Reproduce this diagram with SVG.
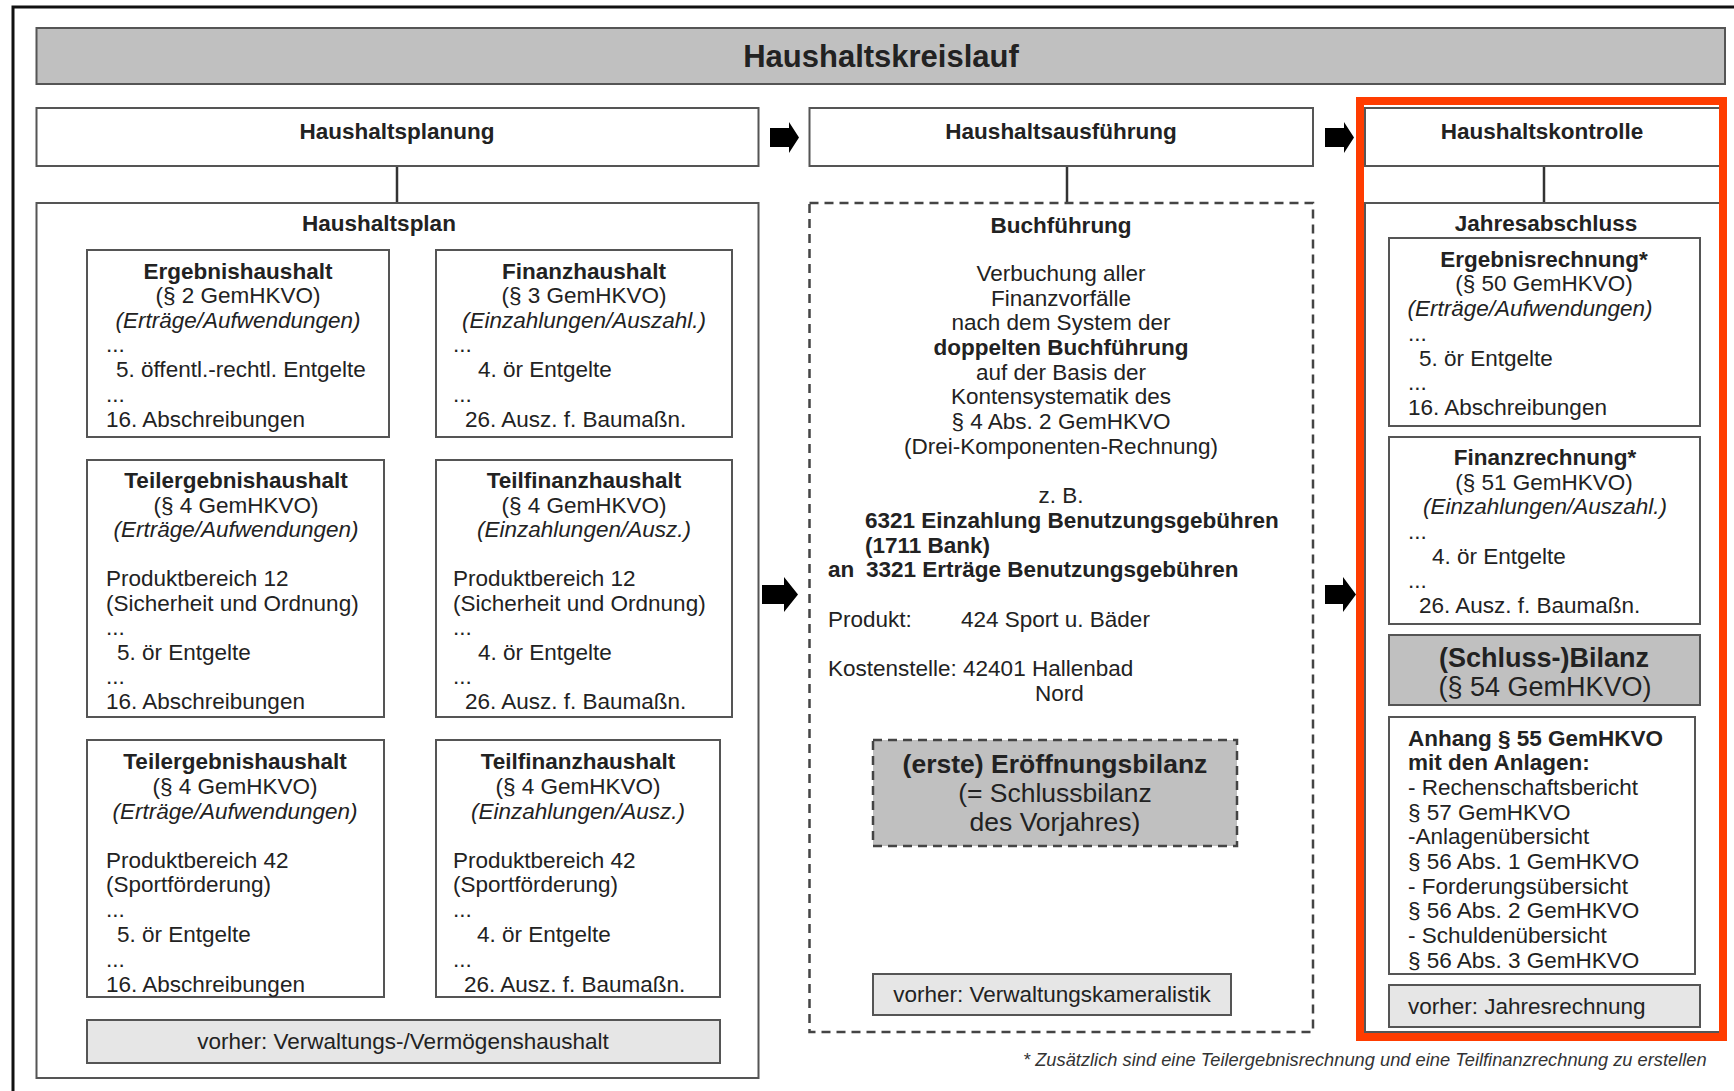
<svg xmlns="http://www.w3.org/2000/svg" width="1734" height="1091" viewBox="0 0 1734 1091">
<style>
.bx{fill:#fff;stroke:#555;stroke-width:2}
.gr{fill:#c0c0c0;stroke:#555;stroke-width:2}
.lg{fill:#e6e6e6;stroke:#555;stroke-width:2}
.ds{fill:#fff;stroke:#444;stroke-width:2.5;stroke-dasharray:9 6}
.dg{fill:#c0c0c0;stroke:#444;stroke-width:2.5;stroke-dasharray:9 6}
.ln{fill:none;stroke:#333;stroke-width:2.5}
.ar{fill:#000}
text{font-family:"Liberation Sans",Arial,Helvetica,sans-serif;font-size:22.5px;fill:#222}
.b{font-weight:bold}
.i{font-style:italic}
.c{text-anchor:middle}
.big{font-size:26.5px}
.fn{font-size:18.3px;font-style:italic;fill:#333}
</style>
<rect width="1734" height="1091" fill="#fff"/>
<g id="frame">
<path d="M13,1091 V7 H1734" fill="none" stroke="#111" stroke-width="3"/>
</g>
<g id="title">
<rect x="36.5" y="28" width="1688.5" height="56" class="gr"/>
<text x="881" y="67" class="b c" style="font-size:31px">Haushaltskreislauf</text>
</g>
<g id="connectors">
<line x1="397" y1="166" x2="397" y2="203" class="ln"/>
<line x1="1067" y1="166" x2="1067" y2="203" class="ln"/>
<line x1="1544" y1="166" x2="1544" y2="203" class="ln"/>
<path d="M87,355 H61 V868 H87 M61,577 H87" class="ln"/>
<path d="M436,355 H410 V868 H436 M410,589 H436" class="ln"/>
<path d="M770,128 H789 V122 L799,137.5 L789,153 V147 H770 Z" class="ar"/>
<path d="M1325,128 H1344 V122 L1354,137.5 L1344,153 V147 H1325 Z" class="ar"/>
<path d="M762,585 H784 V577 L798,594.5 L784,612 V604 H762 Z" class="ar"/>
<path d="M1325,585 H1343 V577 L1356,594.5 L1343,612 V604 H1325 Z" class="ar"/>
</g>
<g id="haushaltsplanung">
<rect x="36.5" y="108" width="722" height="58" class="bx"/>
<text x="397" y="139" class="b c">Haushaltsplanung</text>
</g>
<g id="haushaltsausfuehrung">
<rect x="809.5" y="108" width="503.5" height="58" class="bx"/>
<text x="1061" y="139" class="b c">Haushaltsausführung</text>
</g>
<g id="haushaltskontrolle">
<rect x="1365" y="108" width="356" height="58" class="bx"/>
<text x="1542" y="139" class="b c">Haushaltskontrolle</text>
</g>
<g id="haushaltsplan">
<rect x="36.5" y="203" width="722" height="875" class="bx"/>
<text x="379" y="231" class="b c">Haushaltsplan</text>
</g>
<g id="ergebnishaushalt">
<rect x="87" y="250" width="302" height="187" class="bx"/>
<text x="238" y="279" class="b c">Ergebnishaushalt</text>
<text x="238" y="303" class="c">(§ 2 GemHKVO)</text>
<text x="238" y="328" class="i c">(Erträge/Aufwendungen)</text>
<text x="106" y="352">...</text>
<text x="116" y="377">5. öffentl.-rechtl. Entgelte</text>
<text x="106" y="402">...</text>
<text x="106" y="427">16. Abschreibungen</text>
</g>
<g id="finanzhaushalt">
<rect x="436" y="250" width="296" height="187" class="bx"/>
<text x="584" y="279" class="b c">Finanzhaushalt</text>
<text x="584" y="303" class="c">(§ 3 GemHKVO)</text>
<text x="584" y="328" class="i c">(Einzahlungen/Auszahl.)</text>
<text x="453" y="352">...</text>
<text x="478" y="377">4. ör Entgelte</text>
<text x="453" y="402">...</text>
<text x="465" y="427">26. Ausz. f. Baumaßn.</text>
</g>
<g id="teilergebnishaushalt-12">
<rect x="87" y="460" width="297" height="257" class="bx"/>
<text x="236" y="488" class="b c">Teilergebnishaushalt</text>
<text x="236" y="513" class="c">(§ 4 GemHKVO)</text>
<text x="236" y="537" class="i c">(Erträge/Aufwendungen)</text>
<text x="106" y="586">Produktbereich 12</text>
<text x="106" y="611">(Sicherheit und Ordnung)</text>
<text x="106" y="635">...</text>
<text x="117" y="660">5. ör Entgelte</text>
<text x="106" y="684">...</text>
<text x="106" y="709">16. Abschreibungen</text>
</g>
<g id="teilfinanzhaushalt-12">
<rect x="436" y="460" width="296" height="257" class="bx"/>
<text x="584" y="488" class="b c">Teilfinanzhaushalt</text>
<text x="584" y="513" class="c">(§ 4 GemHKVO)</text>
<text x="584" y="537" class="i c">(Einzahlungen/Ausz.)</text>
<text x="453" y="586">Produktbereich 12</text>
<text x="453" y="611">(Sicherheit und Ordnung)</text>
<text x="453" y="635">...</text>
<text x="478" y="660">4. ör Entgelte</text>
<text x="453" y="684">...</text>
<text x="465" y="709">26. Ausz. f. Baumaßn.</text>
</g>
<g id="teilergebnishaushalt-42">
<rect x="87" y="740" width="297" height="257" class="bx"/>
<text x="235" y="769" class="b c">Teilergebnishaushalt</text>
<text x="235" y="794" class="c">(§ 4 GemHKVO)</text>
<text x="235" y="819" class="i c">(Erträge/Aufwendungen)</text>
<text x="106" y="868">Produktbereich 42</text>
<text x="106" y="892">(Sportförderung)</text>
<text x="106" y="917">...</text>
<text x="117" y="942">5. ör Entgelte</text>
<text x="106" y="967">...</text>
<text x="106" y="992">16. Abschreibungen</text>
</g>
<g id="teilfinanzhaushalt-42">
<rect x="436" y="740" width="284" height="257" class="bx"/>
<text x="578" y="769" class="b c">Teilfinanzhaushalt</text>
<text x="578" y="794" class="c">(§ 4 GemHKVO)</text>
<text x="578" y="819" class="i c">(Einzahlungen/Ausz.)</text>
<text x="453" y="868">Produktbereich 42</text>
<text x="453" y="892">(Sportförderung)</text>
<text x="453" y="917">...</text>
<text x="477" y="942">4. ör Entgelte</text>
<text x="453" y="967">...</text>
<text x="464" y="992">26. Ausz. f. Baumaßn.</text>
</g>
<g id="vorher-haushalt">
<rect x="87" y="1020" width="633" height="43" class="lg"/>
<text x="403" y="1049" class="c">vorher: Verwaltungs-/Vermögenshaushalt</text>
</g>
<g id="buchfuehrung">
<rect x="809.5" y="203" width="503.5" height="829" class="ds"/>
<text x="1061" y="233" class="b c">Buchführung</text>
<text x="1061" y="281" class="c">Verbuchung aller</text>
<text x="1061" y="306" class="c">Finanzvorfälle</text>
<text x="1061" y="330" class="c">nach dem System der</text>
<text x="1061" y="355" class="b c">doppelten Buchführung</text>
<text x="1061" y="380" class="c">auf der Basis der</text>
<text x="1061" y="404" class="c">Kontensystematik des</text>
<text x="1061" y="429" class="c">§ 4 Abs. 2 GemHKVO</text>
<text x="1061" y="454" class="c">(Drei-Komponenten-Rechnung)</text>
<text x="1061" y="503" class="c">z. B.</text>
<text x="865" y="528" class="b">6321 Einzahlung Benutzungsgebühren</text>
<text x="865" y="553" class="b">(1711 Bank)</text>
<text x="828" y="577" class="b">an</text>
<text x="866" y="577" class="b">3321 Erträge Benutzungsgebühren</text>
<text x="828" y="627">Produkt:</text>
<text x="961" y="627">424 Sport u. Bäder</text>
<text x="828" y="676">Kostenstelle: 42401 Hallenbad</text>
<text x="1035" y="701">Nord</text>
</g>
<g id="eroeffnungsbilanz">
<rect x="873" y="740" width="364" height="106" class="dg"/>
<text x="1055" y="773" class="b c big">(erste) Eröffnungsbilanz</text>
<text x="1055" y="802" class="c big">(= Schlussbilanz</text>
<text x="1055" y="831" class="c big">des Vorjahres)</text>
</g>
<g id="vorher-kameralistik">
<rect x="873" y="974" width="358" height="41" class="lg"/>
<text x="1052" y="1002" class="c">vorher: Verwaltungskameralistik</text>
</g>
<g id="jahresabschluss">
<rect x="1365" y="203" width="356" height="829" class="bx"/>
<text x="1546" y="231" class="b c">Jahresabschluss</text>
</g>
<g id="ergebnisrechnung">
<rect x="1389" y="238" width="311" height="188" class="bx"/>
<text x="1544" y="267" class="b c">Ergebnisrechnung*</text>
<text x="1544" y="291" class="c">(§ 50 GemHKVO)</text>
<text x="1530" y="316" class="i c">(Erträge/Aufwendungen)</text>
<text x="1408" y="341">...</text>
<text x="1419" y="366">5. ör Entgelte</text>
<text x="1408" y="390">...</text>
<text x="1408" y="415">16. Abschreibungen</text>
</g>
<g id="finanzrechnung">
<rect x="1389" y="437" width="311" height="187" class="bx"/>
<text x="1545" y="465" class="b c">Finanzrechnung*</text>
<text x="1544" y="490" class="c">(§ 51 GemHKVO)</text>
<text x="1545" y="514" class="i c">(Einzahlungen/Auszahl.)</text>
<text x="1408" y="539">...</text>
<text x="1432" y="564">4. ör Entgelte</text>
<text x="1408" y="588">...</text>
<text x="1419" y="613">26. Ausz. f. Baumaßn.</text>
</g>
<g id="schlussbilanz">
<rect x="1389" y="635" width="311" height="70" class="gr"/>
<text x="1544" y="667" class="b c" style="font-size:27px">(Schluss-)Bilanz</text>
<text x="1545" y="696" class="c" style="font-size:27px">(§ 54 GemHKVO)</text>
</g>
<g id="anhang">
<rect x="1389" y="717" width="306" height="257" class="bx"/>
<text x="1408" y="746" class="b">Anhang § 55 GemHKVO</text>
<text x="1408" y="770" class="b">mit den Anlagen:</text>
<text x="1408" y="795">- Rechenschaftsbericht</text>
<text x="1408" y="820">§ 57 GemHKVO</text>
<text x="1408" y="844">-Anlagenübersicht</text>
<text x="1408" y="869">§ 56 Abs. 1 GemHKVO</text>
<text x="1408" y="894">- Forderungsübersicht</text>
<text x="1408" y="918">§ 56 Abs. 2 GemHKVO</text>
<text x="1408" y="943">- Schuldenübersicht</text>
<text x="1408" y="968">§ 56 Abs. 3 GemHKVO</text>
</g>
<g id="vorher-jahresrechnung">
<rect x="1389" y="985" width="311" height="42" class="lg"/>
<text x="1408" y="1014">vorher: Jahresrechnung</text>
</g>
<g id="highlight">
<rect x="1360" y="101" width="363" height="936" fill="none" stroke="#ff3c00" stroke-width="8"/>
</g>
<g id="footnote">
<text x="1023" y="1066" class="fn">* Zusätzlich sind eine Teilergebnisrechnung und eine Teilfinanzrechnung zu erstellen</text>
</g>
</svg>
